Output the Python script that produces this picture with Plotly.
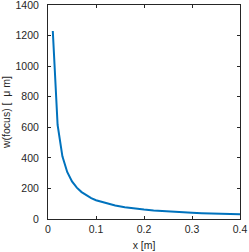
import plotly.graph_objects as go

x_m = [0.01, 0.02, 0.03, 0.04, 0.05, 0.06, 0.07, 0.08, 0.09, 0.10,
       0.12, 0.14, 0.16, 0.18, 0.20, 0.22, 0.24, 0.26, 0.28, 0.30,
       0.32, 0.34, 0.36, 0.38, 0.40]
w_focus_um = [1230, 615, 410, 308, 246, 205, 176, 154, 137, 123,
              103, 88, 77, 68, 62, 56, 51, 47, 44, 41,
              38, 36, 34, 32, 31]

x_ticks = [0, 0.1, 0.2, 0.3, 0.4]
x_tick_labels = ["0", "0.1", "0.2", "0.3", "0.4"]
y_ticks = [0, 200, 400, 600, 800, 1000, 1200, 1400]

axis_col = "#262626"
font = dict(family="Liberation Sans, Arial, sans-serif", size=10.5, color=axis_col)

fig = go.Figure()
fig.add_trace(go.Scatter(x=x_m, y=w_focus_um, mode="lines",
                         line=dict(color="#0072BD", width=2), showlegend=False))

common = dict(showline=True, linecolor=axis_col, linewidth=1, mirror="ticks",
              ticks="inside", ticklen=3, tickcolor=axis_col, showgrid=False,
              zeroline=False, tickfont=font, ticklabeloverflow="allow",
              automargin=False)
fig.update_xaxes(range=[0, 0.4], tickvals=x_ticks, ticktext=x_tick_labels,
                 title=dict(text="x [m]", font=font, standoff=8), **common)
fig.update_yaxes(range=[0, 1400], tickvals=y_ticks, ticklabelstandoff=6,
                 title=dict(text="w(focus) [  μ m]", font=font, standoff=4), **common)

fig.update_layout(width=249, height=252, margin=dict(l=48, r=9, t=5, b=33),
                  paper_bgcolor="white", plot_bgcolor="white", font=font)
fig.write_html("out.html", config={"displayModeBar": False},
               post_script="document.body.style.margin='0';document.body.style.padding='0';document.body.style.overflow='hidden';")
